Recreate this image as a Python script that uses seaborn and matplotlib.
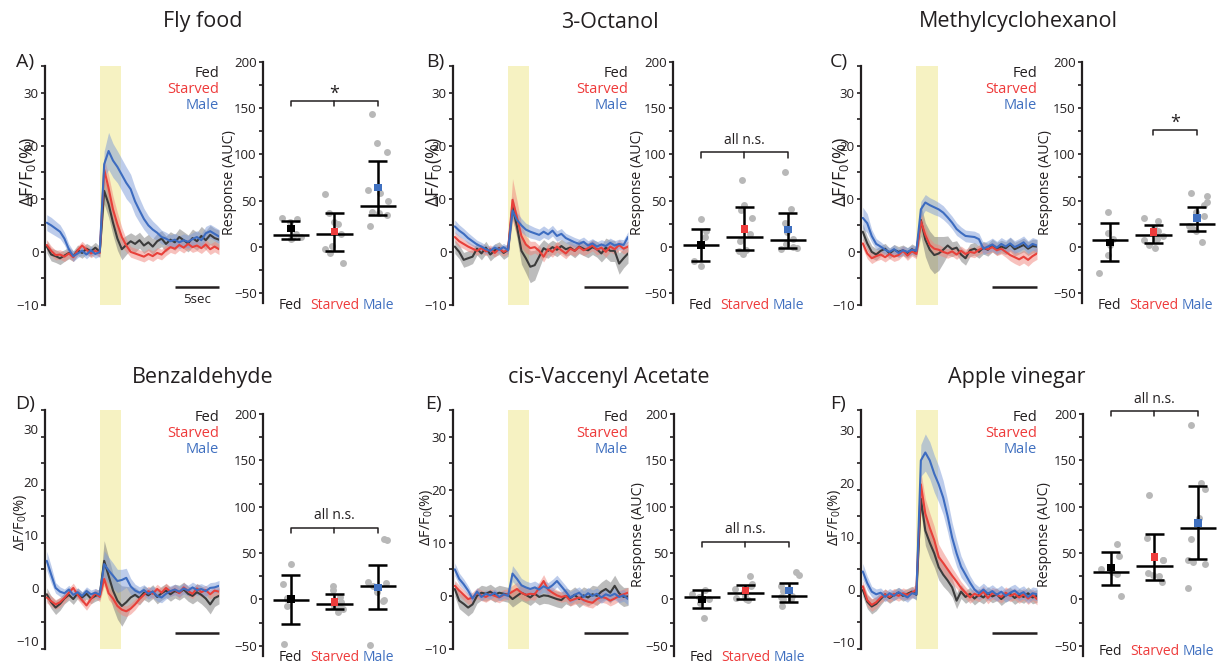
import numpy as np
import pandas as pd
import matplotlib
matplotlib.use("Agg")
import matplotlib.pyplot as plt
import matplotlib.transforms as mtransforms
from matplotlib.ticker import MultipleLocator
import seaborn as sns

# ---------------- data ----------------
# traces: mean and SEM of dF/F0 (%), sampled every 0.5 s
time_s = np.arange(40) * 0.5 - 6.0
stim_on, stim_off = 0.0, 2.4

groups = ["Fed", "Starved", "Male"]
odors = ["Fly food", "3-Octanol", "Methylcyclohexanol",
         "Benzaldehyde", "cis-Vaccenyl Acetate", "Apple vinegar"]
letters = ["A)", "B)", "C)", "D)", "E)", "F)"]

# A - fly food
fed_A = [1.0, -0.5, -0.8, -1.2, -0.7, -0.2, -0.8, 0.3, -0.2, 0.6, 0.1, 0.8, 0.0, 11.5, 9.0, 5.5, 2.5, 0.5, 1.3, 2.0,
         1.5, 2.2, 1.2, 1.8, 1.0, 2.0, 2.5, 1.5, 2.3, 1.8, 2.8, 2.2, 1.6, 2.6, 2.0, 3.0, 2.2, 3.2, 2.6, 2.3]
fed_A_sem = [1.2, 1.2, 1.2, 1.2, 1.1, 1.1, 1.0, 1.0, 1.0, 1.0, 1.0, 1.0, 1.0, 2.5, 2.5, 2.4, 2.2, 2.0, 1.8, 1.6,
             1.6, 1.5, 1.5, 1.5, 1.5, 1.5, 1.5, 1.5, 1.5, 1.5, 1.6, 1.6, 1.6, 1.7, 1.7, 1.8, 1.8, 1.8, 1.8, 1.8]
starved_A = [1.3, 0.2, -0.6, -0.5, -0.9, -0.3, -1.0, 0.3, 1.2, 0.4, -0.3, 0.2, -0.2, 15.5, 12.0, 8.0, 5.2, 2.8, 1.2, 0.0,
             -0.3, -0.6, -0.9, -0.4, -0.8, -0.2, -0.5, 0.3, 0.9, 0.6, 1.3, 0.8, 1.5, 0.9, 1.2, 0.7, 1.4, 0.5, 1.0, 0.5]
starved_A_sem = [1.0, 0.9, 0.9, 0.9, 0.9, 0.8, 0.8, 0.8, 0.8, 0.8, 0.8, 0.8, 0.8, 2.2, 2.5, 2.5, 2.2, 1.8, 1.2, 1.0,
                 1.0, 1.0, 1.0, 1.0, 1.0, 1.0, 1.0, 1.0, 1.0, 1.0, 1.0, 1.0, 1.0, 1.0, 1.0, 1.0, 1.0, 1.0, 1.0, 1.0]
male_A = [5.5, 5.0, 4.4, 3.8, 2.5, 0.5, -0.8, -0.3, 0.2, -0.5, 0.3, -0.4, 0.0, 16.5, 19.0, 17.2, 16.0, 14.5, 13.0, 11.8,
          9.5, 7.8, 6.2, 5.0, 4.2, 3.6, 2.8, 2.5, 2.0, 2.3, 1.8, 2.2, 1.9, 2.4, 2.8, 2.2, 3.5, 3.9, 3.4, 2.9]
male_A_sem = [1.5, 1.5, 1.4, 1.3, 1.2, 1.0, 1.0, 0.8, 0.8, 0.8, 0.8, 0.8, 0.8, 2.5, 3.5, 3.2, 3.0, 3.0, 3.0, 2.8,
              2.6, 2.3, 2.0, 1.8, 1.6, 1.4, 1.3, 1.2, 1.2, 1.2, 1.2, 1.2, 1.2, 1.2, 1.2, 1.2, 1.3, 1.3, 1.3, 1.3]

# B - 3-octanol
fed_B = [1.0, 0.0, -1.5, -1.2, -0.9, 0.6, -0.3, 0.8, -0.5, 0.3, 0.7, -0.2, 0.4, 8.5, 4.8, 0.2, -1.2, -2.8, -2.5, -0.9,
         0.7, 0.2, 0.9, 0.4, 1.1, 0.5, 0.8, 0.2, 1.0, 0.6, 0.3, 0.9, 0.5, -0.3, 0.8, 0.2, 0.2, -2.2, -1.2, -0.3]
fed_B_sem = [1.3, 1.3, 1.4, 1.4, 1.3, 1.2, 1.2, 1.2, 1.2, 1.2, 1.2, 1.2, 1.2, 2.0, 2.2, 2.5, 2.8, 3.0, 2.8, 2.2,
             1.6, 1.4, 1.3, 1.3, 1.3, 1.3, 1.3, 1.3, 1.3, 1.3, 1.4, 1.4, 1.5, 1.6, 1.8, 2.0, 2.0, 2.0, 1.8, 1.8]
starved_B = [2.8, 2.0, 1.5, 1.0, 0.6, 0.2, 0.7, 0.1, 0.5, -0.2, 0.6, 0.0, 0.4, 9.8, 6.5, 3.0, 1.4, 0.7, 0.9, 0.2,
             -0.9, 0.5, 0.0, 1.0, 0.3, -0.3, 0.6, 0.2, 0.9, 0.3, 0.7, 1.2, 0.4, 0.8, 0.0, 1.0, 0.5, 1.3, 0.6, 1.0]
starved_B_sem = [1.0, 1.0, 0.9, 0.9, 0.8, 0.8, 0.8, 0.8, 0.8, 0.8, 0.8, 0.8, 0.8, 4.0, 3.2, 2.2, 1.6, 1.3, 1.1, 1.0,
                 1.0, 1.0, 1.0, 1.0, 1.0, 1.0, 1.0, 1.0, 1.0, 1.0, 1.0, 1.0, 1.0, 1.0, 1.0, 1.0, 1.0, 1.0, 1.0, 1.0]
male_B = [4.8, 4.0, 3.4, 2.6, 2.0, 1.4, 1.0, 0.5, 0.2, 0.8, 0.4, 0.9, 0.3, 7.8, 6.0, 5.0, 4.2, 3.8, 3.5, 3.2,
          3.8, 3.3, 4.0, 3.0, 3.4, 2.6, 2.2, 1.8, 1.5, 1.9, 1.2, 1.6, 1.0, 1.4, 1.1, 1.7, 1.2, 1.5, 1.3, 2.8]
male_B_sem = [1.2, 1.1, 1.0, 1.0, 0.9, 0.8, 0.8, 0.8, 0.7, 0.7, 0.7, 0.7, 0.7, 1.5, 1.4, 1.3, 1.2, 1.2, 1.1, 1.1,
              1.1, 1.0, 1.0, 1.0, 1.0, 0.9, 0.9, 0.9, 0.9, 0.9, 0.9, 0.9, 0.9, 0.9, 0.9, 0.9, 0.9, 0.9, 1.0, 1.0]

# C - methylcyclohexanol
fed_C = [3.8, 1.6, 0.0, -0.5, 0.2, 0.6, -0.3, 0.4, 0.0, 0.3, -0.2, 0.5, 0.0, 6.0, 2.3, 0.4, -0.6, -0.3, 0.4, 1.2,
         0.5, 0.8, -0.5, -1.2, 0.3, 0.6, 0.0, 0.8, 0.4, 1.2, 0.6, 1.0, 0.7, 1.4, 0.5, 0.9, 1.3, 0.6, 1.1, 1.0]
fed_C_sem = [1.5, 1.3, 1.2, 1.1, 1.0, 1.0, 1.0, 1.0, 1.0, 1.0, 1.0, 1.0, 1.0, 3.0, 3.2, 3.5, 3.5, 3.2, 2.5, 1.8,
             1.4, 1.3, 1.3, 1.3, 1.2, 1.2, 1.2, 1.2, 1.2, 1.2, 1.2, 1.2, 1.2, 1.3, 1.3, 1.3, 1.3, 1.3, 1.3, 1.3]
starved_C = [1.6, -0.3, -1.2, -0.8, -0.5, -1.0, -0.4, -0.9, -0.6, 0.2, -0.7, 0.1, -0.4, 5.8, 3.2, 1.3, 0.6, 0.4, 0.0, -0.3,
             0.1, -0.5, 0.2, -0.4, 0.0, -0.2, 0.4, 0.8, 0.5, 0.9, 0.3, 0.6, 0.0, -0.6, -1.0, -1.4, -0.9, -1.5, -0.8, -0.3]
starved_C_sem = [1.0, 1.0, 1.0, 0.9, 0.9, 0.9, 0.9, 0.9, 0.9, 0.9, 0.9, 0.9, 0.9, 1.6, 1.4, 1.2, 1.0, 1.0, 0.9, 0.9,
                 0.9, 0.9, 0.9, 0.9, 0.9, 0.9, 0.9, 0.9, 0.9, 0.9, 1.0, 1.0, 1.0, 1.1, 1.2, 1.2, 1.2, 1.2, 1.1, 1.1]
male_C = [6.4, 5.4, 3.0, 1.5, 1.0, 0.4, 0.0, 0.5, -0.2, 0.3, 0.0, 0.4, 0.2, 8.0, 9.3, 8.8, 8.4, 8.0, 7.4, 6.5,
          5.5, 4.3, 3.6, 3.0, 2.9, 2.8, 2.4, 0.6, 1.0, 1.4, 0.8, 1.5, 1.0, 1.6, 0.9, 1.3, 1.8, 0.9, 1.5, 1.2]
male_C_sem = [2.0, 1.8, 1.2, 1.0, 0.9, 0.8, 0.8, 0.8, 0.8, 0.8, 0.8, 0.8, 0.8, 1.5, 1.5, 1.4, 1.4, 1.3, 1.3, 1.2,
              1.2, 1.2, 1.1, 1.1, 1.1, 1.1, 1.1, 1.1, 1.1, 1.2, 1.2, 1.2, 1.2, 1.2, 1.2, 1.2, 1.2, 1.2, 1.2, 1.2]

# D - benzaldehyde
fed_D = [0.3, -1.2, -2.2, -1.5, -0.5, 0.2, -0.6, 0.5, -0.3, 0.4, -0.5, 0.0, 0.3, 6.6, 3.8, 1.0, -0.9, -1.9, -1.2, -0.3,
         0.2, -0.4, 0.6, 0.1, 0.8, -0.2, 0.5, 1.0, 0.3, 0.9, 0.6, 1.2, 0.4, 0.0, 0.7, 0.2, -0.5, -1.6, -0.4, 0.0]
fed_D_sem = [1.2, 1.2, 1.3, 1.2, 1.0, 1.0, 1.0, 1.0, 1.0, 1.0, 1.0, 1.0, 1.0, 3.8, 3.5, 3.2, 3.5, 3.8, 3.0, 2.0,
             1.4, 1.3, 1.3, 1.3, 1.3, 1.3, 1.3, 1.3, 1.3, 1.3, 1.4, 1.4, 1.4, 1.5, 1.6, 1.7, 1.8, 1.8, 1.6, 1.5]
starved_D = [-0.3, -1.0, -1.6, -1.2, -0.4, 0.6, 1.5, 0.2, -0.8, -1.8, -0.6, 0.5, -0.2, 3.2, 0.5, -0.5, -1.9, -2.6, -2.9, -2.4,
             -1.6, -0.6, 0.2, 0.9, 0.4, 1.3, 0.6, 1.5, 0.8, 1.2, 0.5, 1.6, 0.9, 0.4, 1.4, 0.7, 1.1, 0.3, 1.0, 0.8]
starved_D_sem = [1.0, 1.0, 0.9, 0.9, 0.9, 0.9, 0.9, 0.9, 0.9, 0.9, 0.9, 0.9, 0.9, 1.3, 1.2, 1.1, 1.0, 1.0, 1.0, 1.0,
                 1.0, 0.9, 0.9, 0.9, 0.9, 0.9, 0.9, 0.9, 0.9, 0.9, 0.9, 0.9, 0.9, 0.9, 0.9, 0.9, 0.9, 0.9, 0.9, 0.9]
male_D = [6.6, 4.0, 1.5, 0.8, 0.5, 1.2, 0.2, 0.7, 0.0, 0.9, 0.3, 0.6, 0.2, 6.0, 4.8, 3.8, 2.8, 3.0, 3.4, 1.8,
          1.0, 0.6, 1.1, 0.4, 0.8, 0.0, -0.3, 0.4, 0.9, 1.2, 0.8, 1.4, 1.0, 1.6, 1.1, 1.3, 0.9, 1.5, 1.6, 1.9]
male_D_sem = [1.8, 1.6, 1.0, 0.9, 0.8, 0.8, 0.8, 0.8, 0.8, 0.8, 0.8, 0.8, 0.8, 2.5, 2.5, 2.4, 2.2, 2.0, 1.8, 1.5,
              1.2, 1.1, 1.0, 1.0, 1.0, 1.0, 1.0, 1.0, 1.0, 1.0, 1.0, 1.0, 1.0, 1.0, 1.0, 1.0, 1.0, 1.0, 1.0, 1.0]

# E - cis-vaccenyl acetate
fed_E = [1.3, -0.9, -1.5, -2.2, -1.6, 0.0, 0.6, 0.4, 0.8, 0.2, 0.6, 0.4, 0.2, -0.6, 0.0, 0.6, 0.2, -0.3, 0.4, -0.2,
         0.1, 0.0, -0.3, -0.6, -0.8, 0.0, -0.4, 0.2, -0.6, 0.1, -0.3, 0.3, 0.0, 0.8, 1.3, 0.6, 1.9, 0.5, -0.2, -0.1]
fed_E_sem = [1.4, 1.5, 1.6, 1.6, 1.5, 1.4, 1.4, 1.4, 1.4, 1.4, 1.4, 1.4, 1.4, 1.5, 1.5, 1.5, 1.5, 1.5, 1.5, 1.5,
             1.5, 1.5, 1.5, 1.5, 1.5, 1.5, 1.5, 1.5, 1.6, 1.6, 1.6, 1.7, 1.8, 1.8, 1.9, 2.0, 2.0, 1.9, 1.8, 1.7]
starved_E = [1.9, 1.0, 0.2, -0.6, -0.3, 0.5, 0.1, -0.2, 0.3, 0.0, -0.3, 0.2, 0.3, 0.8, 1.3, 0.6, 0.2, 0.4, 0.3, 1.5,
             2.8, 1.2, 0.6, 0.1, -0.2, 0.0, -0.9, -0.6, -0.3, -0.8, -1.1, -1.3, -0.6, -0.2, -0.4, -0.9, -0.5, 0.0, 0.3, 0.6]
starved_E_sem = [1.0, 1.0, 1.0, 1.0, 1.0, 1.0, 1.0, 1.0, 1.0, 1.0, 1.0, 1.0, 1.0, 1.2, 1.3, 1.2, 1.2, 1.1, 1.1, 1.1,
                 1.2, 1.1, 1.0, 1.0, 1.0, 1.0, 1.0, 1.0, 1.0, 1.0, 1.0, 1.0, 1.0, 1.0, 1.0, 1.0, 1.0, 1.0, 1.0, 1.0]
male_E = [5.0, 3.2, 2.2, 1.0, -0.5, 0.8, -0.2, 0.4, 0.1, 0.6, -0.2, 0.3, 0.0, 4.2, 3.2, 2.0, 1.6, 1.3, 1.6, 1.2,
          1.8, 1.4, 2.0, 2.8, 1.8, 0.8, -0.3, 0.2, 0.6, -0.2, 0.5, 0.0, 0.4, -0.3, 0.3, 0.0, 0.4, -0.2, 0.1, -0.6]
male_E_sem = [1.2, 1.1, 1.0, 0.9, 0.8, 0.7, 0.7, 0.7, 0.7, 0.7, 0.7, 0.7, 0.7, 1.5, 1.4, 1.3, 1.2, 1.2, 1.2, 1.1,
              1.1, 1.1, 1.1, 1.1, 1.1, 1.1, 1.1, 1.1, 1.1, 1.1, 1.1, 1.1, 1.1, 1.1, 1.1, 1.1, 1.1, 1.1, 1.1, 1.1]

# F - apple vinegar
fed_F = [1.1, -1.1, -2.0, -1.5, -0.6, 0.3, -0.4, 0.2, 0.6, 0.0, 0.4, 0.8, 0.2, 18.3, 12.3, 10.0, 8.0, 5.4, 4.0, 2.9,
         1.6, -0.9, 0.8, -0.2, 0.4, -0.5, 0.2, -0.3, 0.5, -0.1, 0.3, -0.6, 0.1, 0.4, -0.4, 0.2, -0.2, 0.5, -0.3, 0.0]
fed_F_sem = [1.2, 1.3, 1.4, 1.3, 1.1, 1.0, 1.0, 1.0, 1.0, 1.0, 1.0, 1.0, 1.0, 2.5, 2.8, 2.8, 2.6, 2.4, 2.2, 2.0,
             1.8, 1.5, 1.3, 1.2, 1.2, 1.2, 1.2, 1.2, 1.2, 1.2, 1.2, 1.2, 1.2, 1.2, 1.2, 1.2, 1.2, 1.2, 1.2, 1.2]
starved_F = [1.8, -0.8, -1.7, -1.2, -0.3, 0.3, -0.2, 0.4, 0.0, 0.5, 0.2, 0.6, 1.2, 21.0, 15.5, 12.8, 10.5, 7.3, 6.2, 5.0,
             3.8, 2.7, 1.5, 0.6, -0.3, 0.4, 0.0, 0.8, -0.4, 0.5, 0.2, -0.2, 0.6, 0.0, 0.4, -0.3, 0.3, -0.5, 0.2, -0.6]
starved_F_sem = [1.1, 1.2, 1.2, 1.1, 1.0, 1.0, 1.0, 1.0, 1.0, 1.0, 1.0, 1.0, 1.0, 2.5, 2.8, 2.8, 2.6, 2.4, 2.0, 1.8,
                 1.5, 1.3, 1.2, 1.1, 1.1, 1.1, 1.1, 1.1, 1.1, 1.1, 1.1, 1.1, 1.1, 1.1, 1.1, 1.1, 1.1, 1.1, 1.1, 1.1]
male_F = [4.6, 2.4, 0.8, 0.3, 0.6, -0.2, 0.5, 0.0, 0.7, 0.2, -0.3, 0.5, 0.3, 25.5, 27.0, 25.5, 23.0, 21.0, 18.5, 15.0,
          11.0, 8.0, 5.5, 4.0, 2.5, 1.2, 0.5, 1.2, 0.4, 0.9, 0.2, 0.8, 0.0, 0.6, 1.0, 0.3, 0.7, -0.2, 0.5, 0.3]
male_F_sem = [1.5, 1.3, 1.0, 1.0, 0.9, 0.9, 0.9, 0.9, 0.9, 0.9, 0.9, 0.9, 0.9, 3.0, 3.5, 3.5, 3.5, 3.4, 3.2, 3.0,
              2.8, 2.5, 2.0, 1.6, 1.3, 1.2, 1.2, 1.2, 1.2, 1.2, 1.2, 1.2, 1.2, 1.2, 1.2, 1.2, 1.2, 1.2, 1.2, 1.2]

# response (AUC) of single flies
auc_fed_A = [31, 30, 27, 14, 10, 9, 8]
auc_starved_A = [57, 37, 27, 25, 14, 1, -2, -7, -18]
auc_male_A = [144, 112, 103, 61, 58, 49, 38, 36, 34, 22]
auc_fed_B = [30, 17, 10, 2, -16, -21]
auc_starved_B = [72, 45, 40, 31, 14, 6, -4, -5, -8]
auc_male_B = [81, 41, 26, 16, 8, 3, -1, -2, 0]
auc_fed_C = [38, 15, 8, 2, -9, -28]
auc_starved_C = [31, 28, 20, 17, 12, 8, 7, 2, -1]
auc_male_C = [58, 55, 48, 45, 38, 33, 22, 19, 17, 5]
auc_fed_D = [38, 17, 2, 0, -7, -48]
auc_starved_D = [14, 10, 3, -3, -5, -7, -9, -10, -14]
auc_male_D = [65, 64, 19, 18, 15, 8, -1, -2, -49]
auc_fed_E = [10, 6, 3, 1, -4, -20]
auc_starved_E = [25, 17, 14, 11, 8, 4, 2, 0, -1]
auc_male_E = [30, 26, 14, 9, 4, 3, 1, 0, -7]
auc_fed_F = [60, 47, 33, 30, 27, 4]
auc_starved_F = [113, 66, 43, 42, 28, 26, 25, 19]
auc_male_F = [188, 126, 119, 88, 65, 42, 40, 38, 12]

# summary per group (Fed, Starved, Male): median line, mean square, lower / upper whisker
median_auc = {"A": [13, 14, 44], "B": [1.5, 11, 7.5], "C": [7.5, 13, 25],
              "D": [-0.7, -5, 14.7], "E": [2.9, 7.2, 3.6], "F": [30, 36, 76.7]}
mean_auc = {"A": [19.5, 16.5, 64], "B": [2, 19, 18.5], "C": [4.7, 16, 31],
            "D": [0.4, -2.5, 12.9], "E": [0, 9.7, 9.7], "F": [34.4, 46, 82.5]}
low_auc = {"A": [8.5, -5, 34], "B": [-15, -4, -1.5], "C": [-16, 4, 16.7],
           "D": [-26.5, -10.8, -10.8], "E": [-9.7, 1, -2.9], "F": [15.6, 20.6, 44]}
high_auc = {"A": [28, 37, 93], "B": [19, 43, 36], "C": [25.7, 24, 42.7],
            "D": [26, 5.4, 37.6], "E": [9.7, 16, 18], "F": [51.7, 71, 122]}

# significance: label, first group, last group, bracket height
signif = {"A": ("*", 0, 2, 158), "B": ("all n.s.", 0, 2, 102), "C": ("*", 1, 2, 126),
          "D": ("all n.s.", 0, 2, 77), "E": ("all n.s.", 0, 2, 62), "F": ("all n.s.", 0, 2, 203)}

traces = {
    "A": [(fed_A, fed_A_sem), (starved_A, starved_A_sem), (male_A, male_A_sem)],
    "B": [(fed_B, fed_B_sem), (starved_B, starved_B_sem), (male_B, male_B_sem)],
    "C": [(fed_C, fed_C_sem), (starved_C, starved_C_sem), (male_C, male_C_sem)],
    "D": [(fed_D, fed_D_sem), (starved_D, starved_D_sem), (male_D, male_D_sem)],
    "E": [(fed_E, fed_E_sem), (starved_E, starved_E_sem), (male_E, male_E_sem)],
    "F": [(fed_F, fed_F_sem), (starved_F, starved_F_sem), (male_F, male_F_sem)],
}
aucs = {
    "A": [auc_fed_A, auc_starved_A, auc_male_A], "B": [auc_fed_B, auc_starved_B, auc_male_B],
    "C": [auc_fed_C, auc_starved_C, auc_male_C], "D": [auc_fed_D, auc_starved_D, auc_male_D],
    "E": [auc_fed_E, auc_starved_E, auc_male_E], "F": [auc_fed_F, auc_starved_F, auc_male_F],
}

# ---------------- style ----------------
sns.set_style("ticks")
plt.rcParams["font.family"] = ["Open Sans", "DejaVu Sans"]
plt.rcParams["mathtext.default"] = "regular"
INK = "#231f20"
line_cols = ["#3b3b3b", "#e8403a", "#3d6cc0"]
band_cols = ["#7a7a7a", "#f0857c", "#7d9bd8"]
text_cols = [INK, "#ee3b3b", "#4070c0"]
STIM = "#f6f2c2"
DOT = "#b8b8b8"

W, H = 1220, 668
fig = plt.figure(figsize=(W / 100, H / 100), dpi=100)


def px_axes(x, y, w, h):
    return fig.add_axes([x / W, 1 - (y + h) / H, w / W, h / H])


# pixel layout: trace axes, scatter axes, title centre, letter pos, label placement
layout = {
    "A": dict(tr=(45, 66, 174, 239), sc=(263, 62, 141, 241), title=(203, 22), let=(25, 62),
              ylx=-0.097, yly=0.556, ylfs=13, slx=-0.235, tshift=0, cat_y=-0.012),
    "B": dict(tr=(453, 66, 175, 239), sc=(673, 62, 141, 241), title=(610, 22), let=(435, 62),
              ylx=-0.11, yly=0.556, ylfs=13, slx=-0.25, tshift=0, cat_y=-0.012),
    "C": dict(tr=(861, 66, 176, 239), sc=(1082, 62, 141, 241), title=(1018, 22), let=(839, 62),
              ylx=-0.114, yly=0.556, ylfs=13, slx=-0.26, tshift=0, cat_y=-0.012),
    "D": dict(tr=(45, 410, 174, 239), sc=(263, 414, 141, 242), title=(203, 377), let=(25, 404),
              ylx=-0.138, yly=0.53, ylfs=10.5, slx=None, tshift=8, cat_y=-0.005),
    "E": dict(tr=(453, 410, 175, 239), sc=(674, 414, 141, 242), title=(609, 377), let=(433, 404),
              ylx=-0.15, yly=0.55, ylfs=10.5, slx=-0.255, tshift=0, cat_y=-0.005),
    "F": dict(tr=(861, 410, 176, 239), sc=(1083, 414, 141, 242), title=(1017, 377), let=(838, 404),
              ylx=-0.148, yly=0.55, ylfs=10.5, slx=-0.27, tshift=7, cat_y=0.02),
}

np.random.seed(7)

for key, odor, letter in zip("ABCDEF", odors, letters):
    lay = layout[key]

    # ---------- trace panel ----------
    ax = px_axes(*lay["tr"])
    ax.axvspan(stim_on, stim_off, color=STIM, lw=0, zorder=0)
    for (m, s), bc in zip(traces[key], band_cols):
        m, s = np.array(m), np.array(s)
        ax.fill_between(time_s, m - s, m + s, color=bc, alpha=0.5, lw=0, zorder=1)
    for (m, s), lc in zip(traces[key], line_cols):
        sns.lineplot(x=time_s, y=m, color=lc, lw=1.5, ax=ax, zorder=3, legend=False)
    ax.set_xlim(-6.2, 13.5)
    ax.set_ylim(-10, 35)
    ax.set_yticks([-10, 0, 10, 20, 30])
    ax.yaxis.set_minor_locator(MultipleLocator(5))
    ax.set_xticks([])
    for sp in ["top", "right", "bottom"]:
        ax.spines[sp].set_visible(False)
    ax.spines["left"].set_linewidth(1.6)
    ax.spines["left"].set_color(INK)
    ax.tick_params(axis="y", which="both", length=3, width=1.2, color=INK, labelsize=9.5, labelcolor=INK, pad=1.5)
    if lay["tshift"]:
        off = mtransforms.ScaledTranslation(0, lay["tshift"] / 100, fig.dpi_scale_trans)
        for lab in ax.get_yticklabels():
            lab.set_transform(lab.get_transform() + off)
    ax.set_ylabel("ΔF/F$_0$(%)", fontsize=lay["ylfs"], color=INK)
    ax.yaxis.label.set_va("center")
    ax.yaxis.set_label_coords(lay["ylx"], lay["yly"])
    # scale bar
    bar_y = -6.6 if key in "ABC" else -7.0
    ax.plot([8.5, 13.5], [bar_y, bar_y], color=INK, lw=1.8, clip_on=False, solid_capstyle="butt")
    if key == "A":
        ax.text(11.0, bar_y - 1.1, "5sec", ha="center", va="top", fontsize=9.5, color=INK)
    for i, (g, tc) in enumerate(zip(groups, text_cols)):
        ax.text(1.0, 0.967 - i * 0.067, g, transform=ax.transAxes, ha="right", va="center",
                fontsize=10.5, color=tc)

    # ---------- response panel ----------
    ax2 = px_axes(*lay["sc"])
    df = pd.DataFrame({"group": np.repeat(groups, [len(v) for v in aucs[key]]),
                       "auc": np.concatenate(aucs[key])})
    sns.stripplot(data=df, x="group", y="auc", order=groups, color=DOT, size=5,
                  jitter=0.25, linewidth=0, ax=ax2, zorder=1)
    xs = np.arange(3)
    ax2.vlines(xs, low_auc[key], high_auc[key], color="k", lw=1.8, zorder=3)
    ax2.hlines(median_auc[key], xs - 0.42, xs + 0.42, color="k", lw=1.8, zorder=3)
    ax2.hlines(low_auc[key], xs - 0.22, xs + 0.22, color="k", lw=1.8, zorder=3)
    ax2.hlines(high_auc[key], xs - 0.22, xs + 0.22, color="k", lw=1.8, zorder=3)
    ax2.scatter(xs, mean_auc[key], marker="s", s=30, c=["#000000", "#ee3b3b", "#3f70c0"],
                linewidths=0, zorder=4)
    ax2.set_xlim(-0.64, 2.6)
    ax2.set_ylim(-61, 200)
    ax2.set_yticks([-50, 0, 50, 100, 150, 200])
    ax2.yaxis.set_minor_locator(MultipleLocator(25))
    ax2.set_xticks([])
    ax2.set_xlabel("")
    for sp in ["top", "right", "bottom"]:
        ax2.spines[sp].set_visible(False)
    ax2.spines["left"].set_linewidth(1.6)
    ax2.spines["left"].set_color(INK)
    ax2.tick_params(axis="y", which="both", length=3, width=1.2, color=INK, labelsize=9.5, labelcolor=INK, pad=1.5)
    if lay["slx"] is not None:
        ax2.set_ylabel("Response (AUC)", fontsize=10.3, color=INK)
        ax2.yaxis.label.set_va("center")
        ax2.yaxis.set_label_coords(lay["slx"], 0.5)
    else:
        ax2.set_ylabel("")
    trans = mtransforms.blended_transform_factory(ax2.transData, ax2.transAxes)
    for i, (g, tc) in enumerate(zip(groups, text_cols)):
        ax2.text(i, lay["cat_y"], g, transform=trans, ha="center", va="center", fontsize=10, color=tc)

    # significance bracket
    lab, g0, g1, yb = signif[key]
    tick = 5.5
    ax2.plot([g0, g0, g1, g1], [yb - tick, yb, yb, yb - tick], color=INK, lw=1.1, clip_on=False)
    if g1 - g0 == 2:
        ax2.plot([1, 1], [yb, yb - tick], color=INK, lw=1.1, clip_on=False)
    if lab == "*":
        ax2.text((g0 + g1) / 2, yb + 8, lab, ha="center", va="center", fontsize=13, color=INK)
    else:
        ax2.text((g0 + g1) / 2, yb + 13, lab, ha="center", va="center", fontsize=10, color=INK)

    # titles and panel letters
    tx, ty = lay["title"]
    fig.text(tx / W, 1 - ty / H, odor, ha="center", va="center", fontsize=15.5, color=INK)
    lx, ly = lay["let"]
    fig.text(lx / W, 1 - ly / H, letter, ha="center", va="center", fontsize=14, color=INK)

fig.savefig("out.png", dpi=100, facecolor="white")
